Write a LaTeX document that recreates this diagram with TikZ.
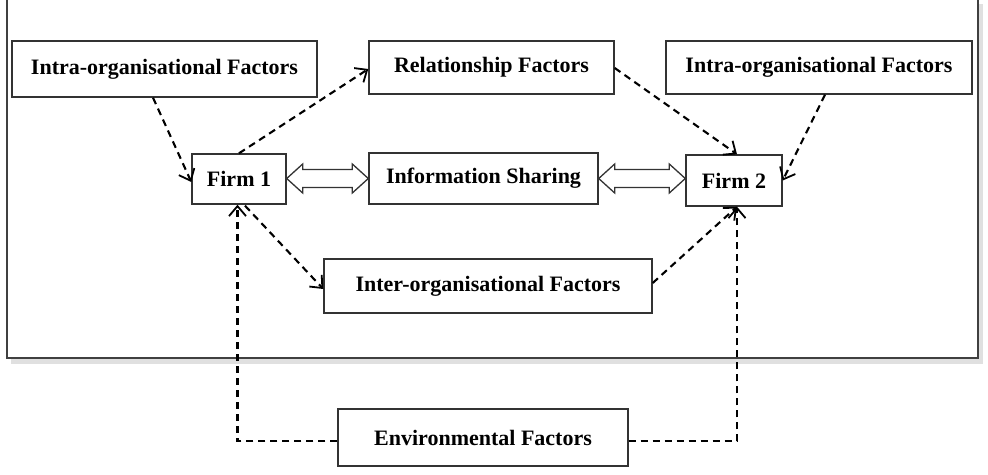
\documentclass[tikz,border=0pt]{standalone}
\usepackage{fontspec}
\setmainfont{Liberation Serif}
\usetikzlibrary{calc,arrows.meta}
\begin{document}
\begin{tikzpicture}[x=1pt,y=-1pt,
  box/.style={draw=black!80,line width=1.4pt,fill=white,inner sep=0pt,
    font=\fontsize{22}{26}\selectfont\bfseries},
  dl/.style={line width=2.1pt,dash pattern=on 7pt off 5pt,
    -{Straight Barb[length=10pt,width=17pt,line width=1.8pt]}},
  dbl/.style={draw=black!80,line width=1.3pt,fill=white,line join=miter}]
\useasboundingbox (0,0) rectangle (988,474);
% shadow and frame
\fill[black!12] (11,359) rectangle (982,364);
\fill[black!12] (979,4) rectangle (983,364);
\draw[line width=2pt,draw=black!75] (7,-3) rectangle (978,358);
% nodes
\node[box,minimum width=305pt,minimum height=56pt] (intraL) at (164.5,69) {Intra-organisational Factors};
\node[box,minimum width=245pt,minimum height=53pt] (rel) at (491.5,67.5) {Relationship Factors};
\node[box,minimum width=306pt,minimum height=53pt] (intraR) at (819,67.5) {Intra-organisational Factors};
\node[box,minimum width=94pt,minimum height=50pt] (firm1) at (239,179) {Firm 1};
\node[box,minimum width=229pt,minimum height=51pt] (info) at (483.5,178.5) {Information Sharing};
\node[box,minimum width=96pt,minimum height=51pt] (firm2) at (734,180.5) {Firm 2};
\node[box,minimum width=328pt,minimum height=54pt] (inter) at (488,286) {Inter-organisational Factors};
\node[box,minimum width=290pt,minimum height=57pt] (env) at (483,437.5) {Environmental Factors};
% double arrows
\draw[dbl] (firm1.east |- info.west) -- ++(16,-14.5) -- ++(0,5.5) -- ($(info.west)+(-16,-9)$) -- ++(0,-5.5)
  -- (info.west) -- ++(-16,14.5) -- ++(0,-5.5) -- ($(firm1.east |- info.west)+(16,9)$) -- ++(0,5.5) -- cycle;
\draw[dbl] (info.east) -- ++(16,-14.5) -- ++(0,5.5) -- ($(firm2.west |- info.east)+(-16,-9)$) -- ++(0,-5.5)
  -- (firm2.west |- info.east) -- ++(-16,14.5) -- ++(0,-5.5) -- ($(info.east)+(16,9)$) -- ++(0,5.5) -- cycle;
% dashed connectors
\draw[dl] ($(intraL.south)+(-11.5,0)$) -- ($(firm1.west)+(0,3)$);
\draw[dl] (firm1.north) -- ($(rel.west)+(0,1.5)$);
\draw[dl] ($(rel.east)+(0,0.5)$) -- ($(firm2.north)+(3,0)$);
\draw[dl] ($(intraR.south)+(6,0)$) -- (firm2.east);
\draw[dl] ($(firm1.south)+(6,1)$) -- ($(inter.west)+(0,3)$);
\draw[dl] ($(inter.east)+(0,-3)$) -- ($(firm2.south)+(3,0)$);
\draw[dl] ($(env.west)+(0,3.5)$) -| ($(firm1.south)+(-1.5,0)$);
\draw[dl] ($(env.east)+(0,3.5)$) -| ($(firm2.south)+(3,0)$);
\end{tikzpicture}
\end{document}
